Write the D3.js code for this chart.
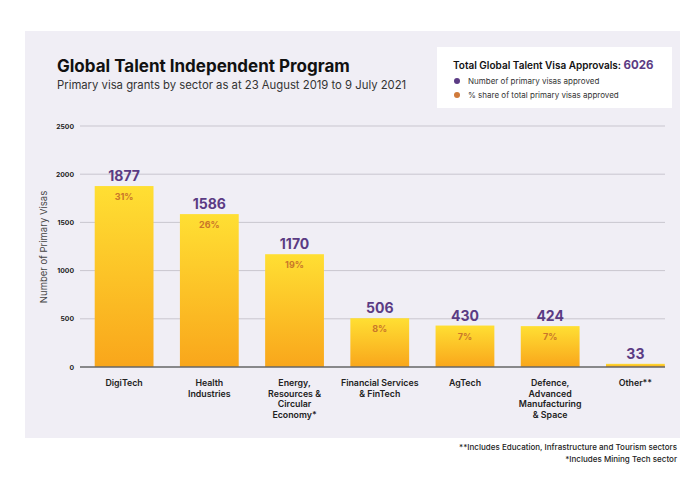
<!DOCTYPE html>
<html>
<head>
<meta charset="utf-8">
<script src="https://cdn.jsdelivr.net/npm/d3@7"></script>
<style>
  html, body { margin: 0; padding: 0; background: #ffffff; }
  svg { display: block; font-family: Inter, "Open Sans", sans-serif; }
</style>
</head>
<body>
<svg id="chart" width="690" height="488"></svg>
<script>
const categories = [
  ["DigiTech"],
  ["Health", "Industries"],
  ["Energy,", "Resources &", "Circular", "Economy*"],
  ["Financial Services", "& FinTech"],
  ["AgTech"],
  ["Defence,", "Advanced", "Manufacturing", "& Space"],
  ["Other**"]
];
const visas = [1877, 1586, 1170, 506, 430, 424, 33];
const shares = ["31%", "26%", "19%", "8%", "7%", "7%", ""];
const yTicks = [0, 500, 1000, 1500, 2000, 2500];
const totalApprovals = 6026;
const footnotes = [
  "**Includes Education, Infrastructure and Tourism sectors",
  "*Includes Mining Tech sector"
];

const svg = d3.select("#chart");
const purple = "#5b3b84";
const orange = "#c9762a";

// panel
svg.append("rect").attr("x", 25).attr("y", 31).attr("width", 655).attr("height", 407).attr("fill", "#f0eef5");

// title
svg.append("text").attr("x", 57).attr("y", 72).attr("font-size", 17).attr("font-weight", 700)
  .attr("fill", "#111").text("Global Talent Independent Program");
svg.append("text").attr("x", 57).attr("y", 89).attr("font-size", 11.3).attr("fill", "#333")
  .text("Primary visa grants by sector as at 23 August 2019 to 9 July 2021");

// legend box
svg.append("rect").attr("x", 437).attr("y", 47).attr("width", 235).attr("height", 61).attr("fill", "#ffffff");
const lt = svg.append("text").attr("x", 453).attr("y", 69).attr("font-size", 10).attr("font-weight", 600).attr("fill", "#111");
lt.append("tspan").text("Total Global Talent Visa Approvals: ");
lt.append("tspan").attr("fill", purple).attr("font-weight", 700).attr("font-size", 11.5).text(totalApprovals);
const legendItems = [["Number of primary visas approved", purple], ["% share of total primary visas approved", "#d07a3a"]];
legendItems.forEach((d, i) => {
  svg.append("circle").attr("cx", 457).attr("cy", 81 + i * 14).attr("r", 3).attr("fill", d[1]);
  svg.append("text").attr("x", 468).attr("y", 84 + i * 14).attr("font-size", 8).attr("fill", "#333").text(d[0]);
});

// scales
const y = d3.scaleLinear().domain([0, 2500]).range([367, 126]);
const x = d3.scaleBand().domain(d3.range(categories.length)).range([81.5, 678]).paddingInner(0.31).paddingOuter(0.155);

// gridlines + ticks
const yAxis = d3.axisLeft(y).tickValues(yTicks).tickFormat(d3.format("d")).tickSize(0).tickPadding(6);
const gy = svg.append("g").attr("transform", "translate(80,0)").call(yAxis);
gy.select(".domain").remove();
gy.selectAll("text").attr("font-size", 6.8).attr("font-weight", 700).attr("fill", "#222").attr("font-family", "Inter, sans-serif");
svg.append("g").selectAll("line").data(yTicks.filter(t => t > 0)).join("line")
  .attr("x1", 80).attr("x2", 665).attr("y1", d => y(d)).attr("y2", d => y(d))
  .attr("stroke", "#c9c6cf").attr("stroke-width", 1);

svg.append("text").attr("transform", "translate(47,247) rotate(-90)").attr("text-anchor", "middle")
  .attr("font-size", 9.5).attr("fill", "#444").text("Number of Primary Visas");

// gradient
const defs = svg.append("defs");
const grad = defs.append("linearGradient").attr("id", "barGrad").attr("x1", 0).attr("y1", 0).attr("x2", 0).attr("y2", 1);
grad.append("stop").attr("offset", "0%").attr("stop-color", "#ffdf33");
grad.append("stop").attr("offset", "100%").attr("stop-color", "#f9a61b");

// bars
svg.append("g").selectAll("rect").data(visas).join("rect")
  .attr("x", (d, i) => x(i)).attr("width", x.bandwidth())
  .attr("y", d => y(d)).attr("height", d => y(0) - y(d))
  .attr("fill", "url(#barGrad)");

// baseline
svg.append("line").attr("x1", 80).attr("x2", 665).attr("y1", y(0)).attr("y2", y(0))
  .attr("stroke", "#666").attr("stroke-width", 1.5);

// value labels
svg.append("g").selectAll("text").data(visas).join("text")
  .attr("x", (d, i) => x(i) + x.bandwidth() / 2).attr("y", d => y(d) - 5)
  .attr("text-anchor", "middle").attr("font-size", 14).attr("font-weight", 700).attr("fill", purple)
  .text(d => d);

// share labels
svg.append("g").selectAll("text").data(shares).join("text")
  .attr("x", (d, i) => x(i) + x.bandwidth() / 2).attr("y", (d, i) => y(visas[i]) + 14)
  .attr("text-anchor", "middle").attr("font-size", 9).attr("font-weight", 700).attr("fill", orange)
  .text(d => d);

// x labels
const xl = svg.append("g").selectAll("text").data(categories).join("text")
  .attr("x", (d, i) => x(i) + x.bandwidth() / 2).attr("y", 386)
  .attr("text-anchor", "middle").attr("font-size", 8.8).attr("font-weight", 600).attr("fill", "#222");
xl.each(function(lines, i) {
  d3.select(this).selectAll("tspan").data(lines).join("tspan")
    .attr("x", x(i) + x.bandwidth() / 2).attr("dy", (d, j) => j === 0 ? 0 : 10.6).text(d => d);
});

// footnotes
footnotes.forEach((f, i) => {
  svg.append("text").attr("x", 677).attr("y", 450 + i * 12).attr("text-anchor", "end")
    .attr("font-size", 8).attr("font-weight", 500).attr("fill", "#222").text(f);
});
</script>
</body>
</html>
